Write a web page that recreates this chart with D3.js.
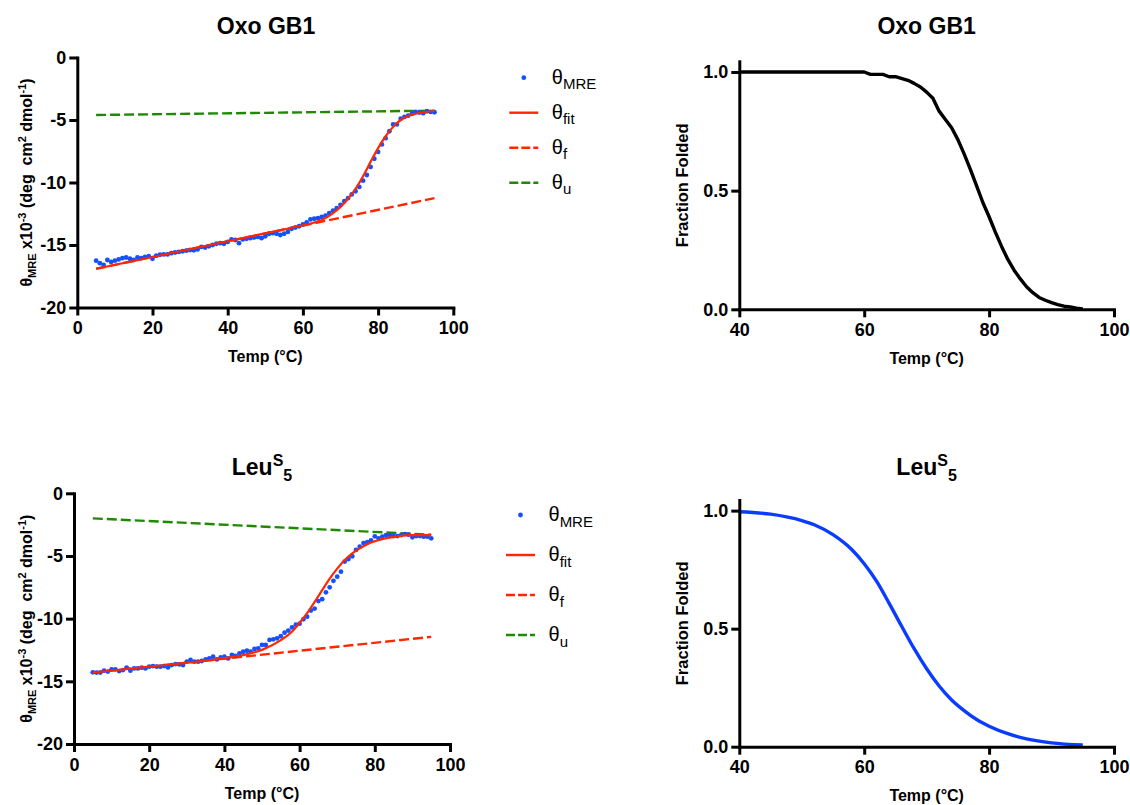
<!DOCTYPE html>
<html>
<head>
<meta charset="utf-8">
<script src="https://cdn.jsdelivr.net/npm/d3@7"></script>
<style>
  body { margin: 0; background: #fff; }
  svg text { font-family: "Liberation Sans", Arial, Helvetica, sans-serif; }
</style>
</head>
<body>
<svg id="fig" width="1130" height="805"></svg>
<script>
// temperature grid of the CD melts (deg C)
var temps = [5,6,7,8,9,10,11,12,13,14,15,16,17,18,19,20,21,22,23,24,25,26,27,28,29,30,
  31,32,33,34,35,36,37,38,39,40,41,42,43,44,45,46,47,48,49,50,51,52,53,54,55,56,57,58,59,60,
  61,62,63,64,65,66,67,68,69,70,71,72,73,74,75,76,77,78,79,80,81,82,83,84,85,86,87,88,89,90,
  91,92,93,94,95];

// Oxo GB1 - measured MRE (x10^-3)
var oxoMRE = [-16.25,-16.45,-16.6,-16.2,-16.35,-16.25,-16.15,-16.05,-16.0,-16.1,
  -16.2,-16.0,-16.05,-15.95,-15.9,-16.1,-15.85,-15.78,-15.75,-15.75,
  -15.65,-15.6,-15.55,-15.5,-15.45,-15.4,-15.42,-15.35,-15.15,-15.2,
  -15.1,-15.0,-14.9,-14.85,-14.9,-14.75,-14.55,-14.6,-14.85,-14.55,
  -14.5,-14.45,-14.4,-14.35,-14.45,-14.3,-14.1,-14.05,-14.1,-14.2,
  -14.1,-13.95,-13.7,-13.6,-13.5,-13.35,-13.2,-12.95,-12.9,-12.85,
  -12.75,-12.65,-12.45,-12.25,-12.05,-11.8,-11.5,-11.25,-10.95,-10.7,
  -10.35,-9.85,-9.4,-8.75,-8.1,-7.55,-6.95,-6.45,-5.9,-5.35,
  -5.35,-4.9,-4.75,-4.65,-4.5,-4.35,-4.4,-4.45,-4.3,-4.35,
  -4.38];
// Oxo GB1 - two-state fit and baselines
var oxoFitT = [5,20,40,55,60,63,66,68,70,72,74,76,78,80,82,84,86,88,90,92,95];
var oxoFitV = [-16.9,-15.96,-14.7,-13.75,-13.42,-13.2,-12.85,-12.45,-11.95,-11.3,-10.5,
  -9.5,-8.35,-7.25,-6.3,-5.55,-5.0,-4.68,-4.5,-4.38,-4.28];
var baseT = [5, 95];
var oxoFolded = [-16.9, -11.25];
var oxoUnfolded = [-4.6, -4.25];
// Oxo GB1 - fraction folded
var oxoFracT = [40,60,61,63,64,65,67,68,69,70,71,72,73,74,75,76,77,78,79,80,81,82,83,84,
  85,86,87,88,89,90,91,92,93,94,95];
var oxoFracV = [1.0,1.0,0.99,0.99,0.98,0.98,0.965,0.952,0.937,0.915,0.889,0.835,0.80,0.765,
  0.715,0.655,0.59,0.52,0.45,0.39,0.325,0.265,0.21,0.165,0.128,0.095,0.07,0.05,0.038,
  0.028,0.02,0.013,0.01,0.005,0.002];

// LeuS5 - measured MRE (x10^-3)
var leuMRE = [-14.28,-14.3,-14.3,-14.15,-14.22,-14.04,-14.04,-14.18,-14.1,-13.9,
  -14.15,-13.97,-13.97,-13.91,-13.97,-13.83,-13.78,-13.83,-13.83,-13.78,
  -13.89,-13.7,-13.62,-13.65,-13.7,-13.43,-13.3,-13.43,-13.43,-13.38,
  -13.25,-13.17,-13.04,-13.25,-13.09,-13.04,-13.17,-12.9,-12.98,-12.77,
  -12.64,-12.56,-12.64,-12.42,-12.37,-12.1,-12.1,-11.7,-11.65,-11.57,
  -11.4,-11.12,-10.95,-10.7,-10.48,-10.4,-10.05,-9.84,-9.35,-9.2,
  -8.6,-8.45,-7.9,-7.5,-6.98,-6.65,-6.25,-5.45,-5.25,-5.02,
  -4.52,-4.26,-3.97,-3.9,-3.76,-3.43,-3.59,-3.46,-3.33,-3.33,
  -3.41,-3.41,-3.33,-3.25,-3.3,-3.51,-3.41,-3.41,-3.46,-3.46,
  -3.59];
var leuFitT = [5,20,40,45,50,55,58,60,62,64,66,68,70,72,74,76,78,80,83,86,90,95];
var leuFitV = [-14.3,-13.83,-13.15,-12.91,-12.49,-11.71,-11.02,-10.33,-9.56,-8.66,-7.73,
  -6.81,-6.01,-5.32,-4.79,-4.39,-4.06,-3.83,-3.58,-3.43,-3.34,-3.33];
var leuFolded = [-14.3, -11.45];
var leuUnfolded = [-2.0, -3.3];
var leuFracT = [40,45,50,52,55,58,60,62,64,66,68,70,72,74,76,78,80,83,86,90,95];
var leuFracV = [0.995,0.985,0.958,0.94,0.898,0.835,0.775,0.70,0.607,0.51,0.415,0.33,0.257,
  0.198,0.153,0.115,0.087,0.055,0.033,0.016,0.007];

// axis ticks
var meltXTicks = [0, 20, 40, 60, 80, 100];
var meltYTicks = [0, -5, -10, -15, -20];
var fracXTicks = [40, 60, 80, 100];
var fracYTicks = [0, 0.5, 1.0];
var fracYLabels = ["0.0", "0.5", "1.0"];

var BLUE = "#1450ff", RED = "#ff2600", GREEN = "#1e8a00";

var svg = d3.select("#fig");

function zip(xs, ys) {
  return xs.map(function(x, i){ return [x, ys[i]]; });
}

function styleAxis(g) {
  g.select(".domain").attr("stroke", "#000").attr("stroke-width", 3).attr("stroke-linecap", "square");
  g.selectAll(".tick line").attr("stroke", "#000").attr("stroke-width", 3);
  g.selectAll(".tick text")
    .attr("fill", "#000")
    .style("font-size", "18px")
    .style("font-weight", "bold");
}

// title, optionally with the S superscript / 5 subscript
function title(cx, y, parts) {
  var t = svg.append("text")
    .attr("x", cx).attr("y", y)
    .attr("text-anchor", "middle")
    .style("font-size", "23px").style("font-weight", "bold");
  parts.forEach(function(p){
    t.append("tspan").text(p.t)
      .attr("dy", p.dy || 0)
      .style("font-size", p.size ? p.size + "px" : null);
  });
}

function xLabel(cx, y) {
  svg.append("text")
    .attr("x", cx).attr("y", y)
    .attr("text-anchor", "middle")
    .style("font-size", "16px").style("font-weight", "bold")
    .text("Temp (\u00B0C)");
}

function meltPanel(p, mre, fitT, fitV, folded, unfolded) {
  var x = d3.scaleLinear().domain([0, 100]).range([p.left, p.right]);
  var y = d3.scaleLinear().domain([-20, 0]).range([p.bottom, p.top]);

  var line = d3.line().x(function(d){ return x(d[0]); }).y(function(d){ return y(d[1]); });
  var smooth = d3.line().curve(d3.curveMonotoneX)
    .x(function(d){ return x(d[0]); }).y(function(d){ return y(d[1]); });

  svg.append("path").datum(zip(baseT, unfolded))
    .attr("d", line).attr("fill", "none")
    .attr("stroke", GREEN).attr("stroke-width", 2.4).attr("stroke-dasharray", "10,4");
  svg.append("path").datum(zip(baseT, folded))
    .attr("d", line).attr("fill", "none")
    .attr("stroke", RED).attr("stroke-width", 2.4).attr("stroke-dasharray", "10,4");

  svg.append("g").selectAll("circle")
    .data(zip(temps, mre))
    .enter().append("circle")
    .attr("cx", function(d){ return x(d[0]); })
    .attr("cy", function(d){ return y(d[1]); })
    .attr("r", 2.4)
    .attr("fill", BLUE);

  svg.append("path").datum(zip(fitT, fitV))
    .attr("d", smooth).attr("fill", "none")
    .attr("stroke", RED).attr("stroke-width", 2.2);

  var gx = svg.append("g").attr("transform", "translate(0," + p.bottom + ")")
    .call(d3.axisBottom(x).tickValues(meltXTicks).tickSize(8).tickSizeOuter(0)
      .tickPadding(6).tickFormat(String));
  styleAxis(gx);
  var gy = svg.append("g").attr("transform", "translate(" + p.left + ",0)")
    .call(d3.axisLeft(y).tickValues(meltYTicks).tickSize(8).tickSizeOuter(0)
      .tickPadding(3).tickFormat(String));
  styleAxis(gy);

  xLabel((p.left + p.right) / 2, p.bottom + 54.5);

  // rotated y label with sub/superscripts
  var yl = svg.append("text")
    .attr("transform", "translate(31.5," + ((p.top + p.bottom) / 2) + ") rotate(-90)")
    .attr("text-anchor", "middle")
    .style("font-size", "16px").style("font-weight", "bold")
    .style("white-space", "pre");
  yl.append("tspan").text("\u03B8");
  yl.append("tspan").text("MRE").style("font-size", "11px").attr("dy", 4);
  yl.append("tspan").text(" x10").attr("dy", -4);
  yl.append("tspan").text("-3").style("font-size", "11px").attr("dy", -6);
  yl.append("tspan").text(" (deg  cm").attr("dy", 6);
  yl.append("tspan").text("2").style("font-size", "11px").attr("dy", -6);
  yl.append("tspan").text(" dmol").attr("dy", 6);
  yl.append("tspan").text("-1").style("font-size", "11px").attr("dy", -6);
  yl.append("tspan").text(")").attr("dy", 6);
}

function fracPanel(p, fT, fV, color, curve) {
  var x = d3.scaleLinear().domain([40, 100]).range([p.left, p.right]);
  var y = d3.scaleLinear().domain([0, 1.045]).range([p.bottom, p.top]);

  var line = d3.line().curve(curve)
    .x(function(d){ return x(d[0]); }).y(function(d){ return y(d[1]); });

  svg.append("path").datum(zip(fT, fV))
    .attr("d", line).attr("fill", "none")
    .attr("stroke", color).attr("stroke-width", 3.4)
    .attr("stroke-linejoin", "round");

  var gx = svg.append("g").attr("transform", "translate(0," + p.bottom + ")")
    .call(d3.axisBottom(x).tickValues(fracXTicks).tickSize(8).tickSizeOuter(0)
      .tickPadding(6).tickFormat(String));
  styleAxis(gx);
  var gy = svg.append("g").attr("transform", "translate(" + p.left + ",0)")
    .call(d3.axisLeft(y).tickValues(fracYTicks).tickSize(8).tickSizeOuter(0)
      .tickPadding(3).tickFormat(function(d, i){ return fracYLabels[i]; }));
  styleAxis(gy);

  xLabel((p.left + p.right) / 2, p.bottom + 54.5);

  svg.append("text")
    .attr("transform", "translate(688," + ((p.top + p.bottom) / 2) + ") rotate(-90)")
    .attr("text-anchor", "middle")
    .style("font-size", "16.5px").style("font-weight", "bold")
    .text("Fraction Folded");
}

function legend(lx, ly, step) {
  var rows = [
    {kind: "dot", sub: "MRE"},
    {kind: "solid", sub: "fit", color: RED},
    {kind: "dash", sub: "f", color: RED},
    {kind: "dash", sub: "u", color: GREEN}
  ];
  rows.forEach(function(r, i){
    var cy = ly + i * step;
    if (r.kind === "dot") {
      svg.append("circle").attr("cx", lx + 14.5).attr("cy", cy).attr("r", 2.4).attr("fill", BLUE);
    } else {
      svg.append("line")
        .attr("x1", lx).attr("x2", lx + 29).attr("y1", cy).attr("y2", cy)
        .attr("stroke", r.color).attr("stroke-width", 2.4)
        .attr("stroke-dasharray", r.kind === "dash" ? "9,3" : null);
    }
    var t = svg.append("text").attr("x", lx + 42.5).attr("y", cy + 6)
      .style("font-size", "20px");
    t.append("tspan").text("\u03B8");
    t.append("tspan").text(r.sub).style("font-size", "15px").attr("dy", 5.5);
  });
}

// Oxo GB1
title(266, 34, [{t: "Oxo GB1"}]);
meltPanel({left: 77.3, right: 453.3, top: 57.5, bottom: 307.5},
  oxoMRE, oxoFitT, oxoFitV, oxoFolded, oxoUnfolded);
legend(509.3, 77.7, 35);
title(926.6, 34, [{t: "Oxo GB1"}]);
fracPanel({left: 739.3, right: 1114, top: 61.3, bottom: 309.3},
  oxoFracT, oxoFracV, "#000", d3.curveLinear);

// LeuS5
title(262, 475, [{t: "Leu"}, {t: "S", size: 16, dy: -9}, {t: "5", size: 16, dy: 15}]);
meltPanel({left: 74, right: 450, top: 493.3, bottom: 744},
  leuMRE, leuFitT, leuFitV, leuFolded, leuUnfolded);
legend(506, 515, 40);
title(926.6, 475, [{t: "Leu"}, {t: "S", size: 16, dy: -9}, {t: "5", size: 16, dy: 15}]);
fracPanel({left: 739.3, right: 1114, top: 500, bottom: 746.7},
  leuFracT, leuFracV, "#0a3cff", d3.curveMonotoneX);
</script>
</body>
</html>
